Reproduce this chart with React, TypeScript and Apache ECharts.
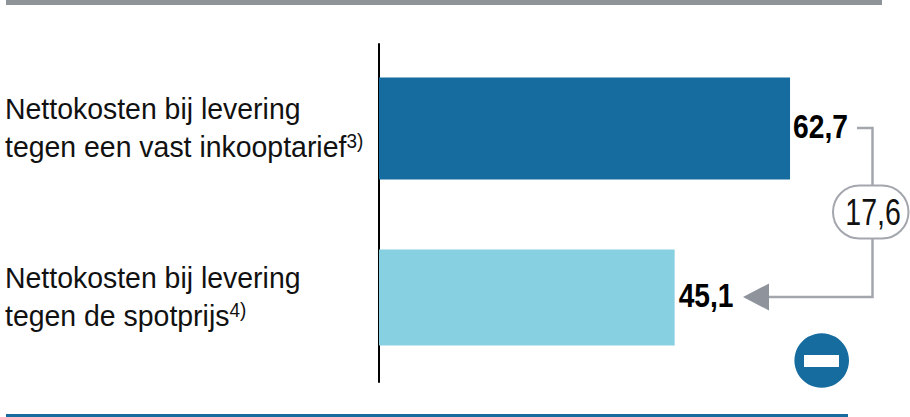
import React, { useEffect, useRef } from "react";
import * as echarts from "echarts";

const categories = ["Vast inkooptarief", "Spotprijs"];
const categoryLines = [
  ["Nettokosten bij levering", "tegen een vast inkooptarief{sup|3)}"],
  ["Nettokosten bij levering", "tegen de spotprijs{sup|4)}"],
];
const fixedRate = [62.7, null];
const spotRate = [null, 45.1];
const valueTexts = ["62,7", "45,1"];
const barValues = [62.7, 45.1];
const differenceLabel = "17,6";

const DARK_BLUE = "#166c9f";
const LIGHT_BLUE = "#87d0e1";
const GREY = "#a3a7ad";
const FONT = '"Liberation Sans", Arial, sans-serif';

const categoryAxis = (show: boolean) => ({
  type: "category" as const,
  inverse: true,
  data: categories,
  axisLine: { show, onZero: false, lineStyle: { color: "#000", width: 2 } },
  axisTick: { show: false },
  axisLabel: { show: false },
});

// Two-line row captions, narrowed a little, left-aligned at the page edge.
const renderCaption = (params: any, api: any) => {
  const idx = api.value(0);
  const [, y] = api.coord([0, idx]);
  return {
    type: "text",
    x: 5,
    y: y - 1,
    scaleX: 0.948,
    style: {
      text: categoryLines[idx].join("\n"),
      font: `30px ${FONT}`,
      fill: "#111",
      lineHeight: 37.5,
      align: "left",
      verticalAlign: "middle",
      rich: {
        sup: { font: `20px ${FONT}`, fill: "#111", lineHeight: 37.5, padding: [0, 0, 11, 0] },
      },
    },
  };
};

// Bold value next to the end of each bar.
const renderValue = (params: any, api: any) => {
  const idx = api.value(0);
  const [x, y] = api.coord([barValues[idx], idx]);
  return {
    type: "text",
    x: x + (idx === 0 ? 3 : 4),
    y: y - 2,
    scaleX: 0.83,
    style: {
      text: valueTexts[idx],
      font: `bold 34px ${FONT}`,
      fill: "#000",
      align: "left",
      verticalAlign: "middle",
    },
  };
};

export default function App() {
  const ref = useRef<HTMLDivElement>(null);
  useEffect(() => {
    const chart = echarts.init(ref.current!, undefined, { renderer: "svg" });
    chart.setOption({
      animation: false,
      backgroundColor: "#fff",
      grid: { left: 379, top: 44, width: 531, height: 338 },
      xAxis: { type: "value", min: 0, max: 81, show: false },
      yAxis: [categoryAxis(true), categoryAxis(false)],
      series: [
        { type: "bar", yAxisIndex: 0, data: fixedRate, barWidth: 102, itemStyle: { color: DARK_BLUE } },
        { type: "bar", yAxisIndex: 1, data: spotRate, barWidth: 96, itemStyle: { color: LIGHT_BLUE } },
        { type: "custom", yAxisIndex: 0, data: [[0], [1]], encode: { y: 0 }, renderItem: renderCaption, clip: false },
        { type: "custom", yAxisIndex: 0, data: [[0], [1]], encode: { y: 0 }, renderItem: renderValue, clip: false },
      ],
      graphic: [
        { type: "rect", shape: { x: 6, y: 0, width: 876, height: 5 }, style: { fill: "#8f9499" } },
        { type: "rect", shape: { x: 6, y: 414, width: 842, height: 3 }, style: { fill: DARK_BLUE } },
        {
          type: "polyline",
          shape: { points: [[857, 128], [872.5, 128], [872.5, 297], [768, 297]] },
          style: { stroke: GREY, lineWidth: 2.5, fill: "none" },
        },
        { type: "polygon", shape: { points: [[743, 297], [769, 283.5], [769, 310.5]] }, style: { fill: "#8f949c" } },
        {
          type: "rect",
          shape: { x: 833, y: 185.5, width: 75.5, height: 53, r: 26.5 },
          style: { fill: "#fff", stroke: GREY, lineWidth: 2 },
        },
        {
          type: "text",
          x: 873,
          y: 212,
          scaleX: 0.77,
          style: {
            x: 0,
            y: 0,
            text: differenceLabel,
            font: `37px ${FONT}`,
            fill: "#111",
            align: "center",
            verticalAlign: "middle",
          },
        },
        { type: "circle", shape: { cx: 821.7, cy: 360.5, r: 27.3 }, style: { fill: DARK_BLUE } },
        { type: "rect", shape: { x: 804, y: 355, width: 35, height: 12 }, style: { fill: "#fff" } },
      ],
    });
    return () => chart.dispose();
  }, []);
  return <div ref={ref} style={{ position: "fixed", left: 0, top: 0, width: 910, height: 417 }} />;
}
